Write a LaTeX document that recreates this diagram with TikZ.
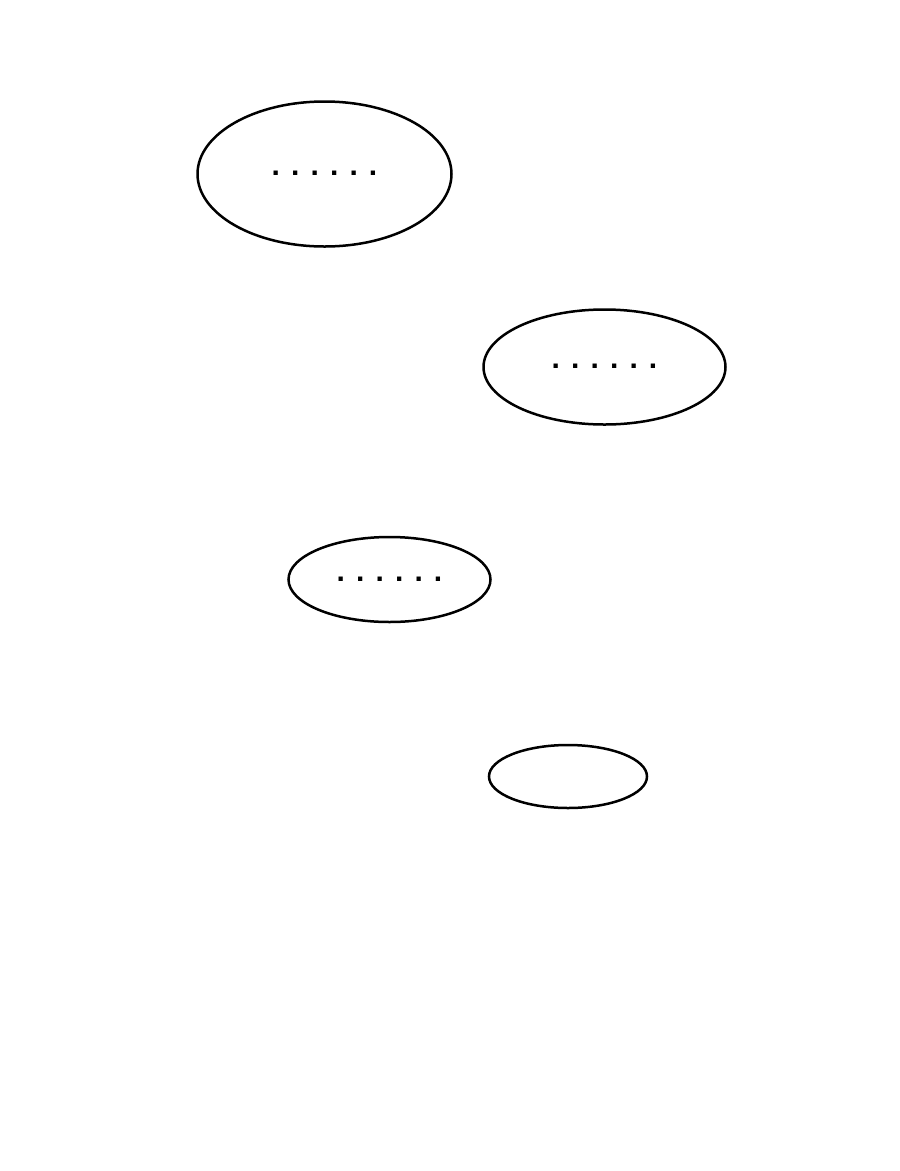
\documentclass[tikz,border=0pt]{standalone}
\usepackage{fontspec}
\setmainfont{Liberation Sans}
\usepackage{tikz}
\usetikzlibrary{shapes}

\begin{document}
\begin{tikzpicture}[x=1pt, y=-1pt]
    \tikzstyle{bubble} = [draw, ellipse, line width=2.5pt, inner sep=0pt,
    text height=.33em, text depth=0pt,
    font=\fontsize{30}{34}\selectfont\bfseries]

    \useasboundingbox (0,0) rectangle (900,1171);

    \node [bubble, minimum width=254pt, minimum height=145pt] (first) at (324.5,174) {. . . . . .};
    \node [bubble, minimum width=242pt, minimum height=115pt] (second) at (604.5,367) {. . . . . .};
    \node [bubble, minimum width=202pt, minimum height=85pt] (third) at (389.5,579.5) {. . . . . .};
    \node [bubble, minimum width=158pt, minimum height=63pt] (fourth) at (568,776.5) {};
  \end{tikzpicture}
\end{document}
